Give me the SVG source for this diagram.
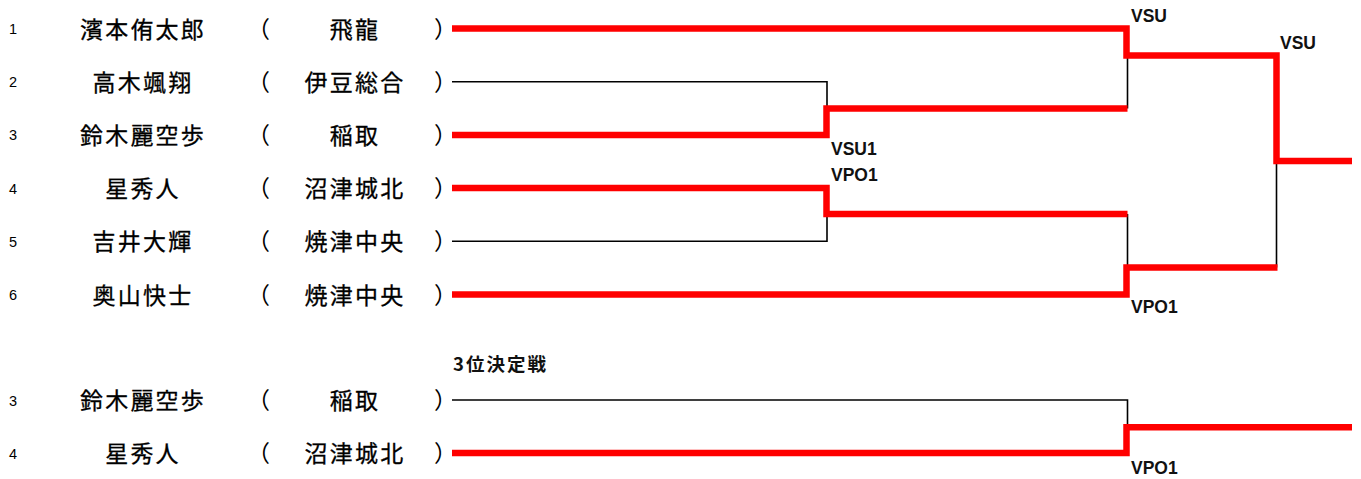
<svg xmlns="http://www.w3.org/2000/svg" width="1361" height="479" viewBox="0 0 1361 479">
<style>
.num{font-family:"Liberation Sans",Arial,sans-serif;font-size:14.5px;fill:#000;text-anchor:middle}
.jp{font-family:"Noto Sans CJK JP","Noto Sans CJK SC",sans-serif;font-size:23px;fill:#000;stroke:#000;stroke-width:0.3;letter-spacing:2.2px;text-anchor:middle}
.par{font-family:"Noto Sans CJK JP","Noto Sans CJK SC",sans-serif;font-size:23px;fill:#000}
.lbl{font-family:"Liberation Sans",Arial,sans-serif;font-size:17.5px;font-weight:bold;fill:#111}
.hdr{font-family:"Noto Sans CJK JP","Noto Sans CJK SC",sans-serif;font-size:18.5px;font-weight:bold;fill:#111;letter-spacing:2px}
.thin{fill:none;stroke:#000;stroke-width:1.6}
.win{fill:none;stroke:#ff0000;stroke-width:6.5;stroke-linejoin:miter;stroke-linecap:butt}
</style>
<g id="entry-1"><text class="num" x="13" y="34">1</text><text class="jp" x="143" y="37.5">濱本侑太郎</text><text class="par" x="247" y="37.5">（</text><text class="jp" x="355" y="37.5">飛龍</text><text class="par" x="434" y="37.5">）</text></g>
<g id="entry-2"><text class="num" x="13" y="87.2">2</text><text class="jp" x="143" y="90.7">高木颯翔</text><text class="par" x="247" y="90.7">（</text><text class="jp" x="355" y="90.7">伊豆総合</text><text class="par" x="434" y="90.7">）</text></g>
<g id="entry-3"><text class="num" x="13" y="140.4">3</text><text class="jp" x="143" y="143.9">鈴木麗空歩</text><text class="par" x="247" y="143.9">（</text><text class="jp" x="355" y="143.9">稲取</text><text class="par" x="434" y="143.9">）</text></g>
<g id="entry-4"><text class="num" x="13" y="193.6">4</text><text class="jp" x="143" y="197.1">星秀人</text><text class="par" x="247" y="197.1">（</text><text class="jp" x="355" y="197.1">沼津城北</text><text class="par" x="434" y="197.1">）</text></g>
<g id="entry-5"><text class="num" x="13" y="246.8">5</text><text class="jp" x="143" y="250.3">吉井大輝</text><text class="par" x="247" y="250.3">（</text><text class="jp" x="355" y="250.3">焼津中央</text><text class="par" x="434" y="250.3">）</text></g>
<g id="entry-6"><text class="num" x="13" y="300">6</text><text class="jp" x="143" y="303.5">奥山快士</text><text class="par" x="247" y="303.5">（</text><text class="jp" x="355" y="303.5">焼津中央</text><text class="par" x="434" y="303.5">）</text></g>
<g id="third-header"><text class="hdr" x="453" y="371">3位決定戦</text></g>
<g id="third-entry-3"><text class="num" x="13" y="405.5">3</text><text class="jp" x="143" y="409">鈴木麗空歩</text><text class="par" x="247" y="409">（</text><text class="jp" x="355" y="409">稲取</text><text class="par" x="434" y="409">）</text></g>
<g id="third-entry-4"><text class="num" x="13" y="458.5">4</text><text class="jp" x="143" y="462">星秀人</text><text class="par" x="247" y="462">（</text><text class="jp" x="355" y="462">沼津城北</text><text class="par" x="434" y="462">）</text></g>
<g id="connectors">
<path class="thin" d="M452 81.7H827V108.5"/>
<path class="thin" d="M452 241.3H827V214"/>
<path class="thin" d="M1127.5 55.5V108.5"/>
<path class="thin" d="M1127.5 214V267.5"/>
<path class="thin" d="M1276.5 161V267.5"/>
<path class="thin" d="M452 400H1127.5V427.3"/>
<path class="win" d="M452 28.5H1126.5V55.5H1276.5V161H1352"/>
<path class="win" d="M452 134.9H826.5V108.5H1127.5"/>
<path class="win" d="M452 188.1H826.5V214H1127.5"/>
<path class="win" d="M452 294.5H1126.5V267.5H1277.5"/>
<path class="win" d="M452 453H1126.5V427.3H1352"/>
</g>
<g id="labels">
<text class="lbl" x="1131" y="22">VSU</text>
<text class="lbl" x="1280" y="48.5">VSU</text>
<text class="lbl" x="831" y="154.5">VSU1</text>
<text class="lbl" x="831" y="181">VPO1</text>
<text class="lbl" x="1131" y="313">VPO1</text>
<text class="lbl" x="1131" y="473.5">VPO1</text>
</g>
</svg>
